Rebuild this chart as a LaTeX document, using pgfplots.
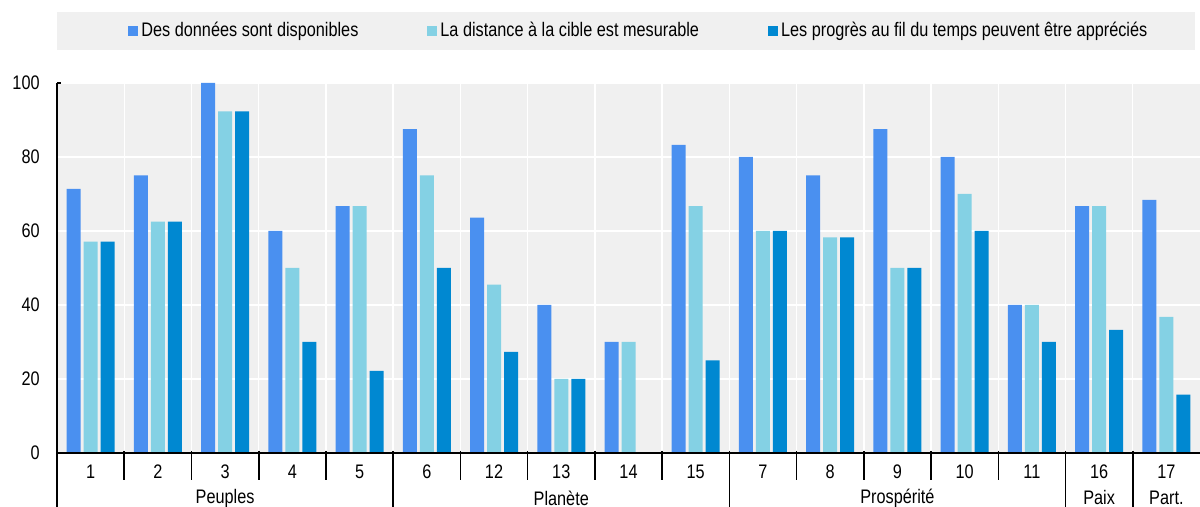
\documentclass[border=0pt]{standalone}
\usepackage{pgfplots}
\pgfplotsset{compat=1.18}
\usepackage{fontspec}
\setmainfont{Liberation Sans}[FakeStretch=0.83]
\definecolor{cA}{HTML}{4A90F0}
\definecolor{cB}{HTML}{84D1E4}
\definecolor{cC}{HTML}{0088D1}
\definecolor{bg}{HTML}{F0F0F0}
\newcommand{\fs}{\fontsize{9.8}{11.5}\selectfont}
\begin{document}
\fs
\begin{tikzpicture}
\path[use as bounding box] (-28.5pt,-27pt) rectangle (571.5pt,226.5pt);
\fill[bg] (0,201.5pt) rectangle (569pt,220.5pt);
\begin{axis}[at={(0,0)}, anchor=south west, scale only axis,
 width=571.5pt, height=185pt,
 xmin=-0.5, xmax=16.5, ymin=0, ymax=100,
 axis background/.style={fill=bg},
 axis line style={draw=none},
 ybar=1.5pt, bar width=7pt,
 xtick={0,...,16},
 xticklabels={1,2,3,4,5,6,12,13,14,15,7,8,9,10,11,16,17},
 minor xtick={0.5,1.5,...,15.5},
 xminorgrids, minor grid style={white, line width=0.7pt},
 ytick={0,20,...,100}, ymajorgrids, major grid style={white, line width=0.7pt},
 tick style={draw=none},
 /pgf/number format/assume math mode=true,
 xticklabel style={anchor=center, yshift=-5pt, font=\fs},
 yticklabel style={inner sep=0pt, xshift=-8.5pt, font=\fs},
 legend columns=3,
 legend style={at={(0.5095,1.1405)}, anchor=center, draw=none, fill=none,
   font=\fs,
   nodes={inner sep=1.5pt},
   /tikz/every even column/.append style={column sep=33pt}},
 legend image code/.code={\fill[#1,draw=none] (0pt,-2.5pt) rectangle (5pt,2.5pt);},
]
\addplot[fill=cA, draw=none] coordinates {
 (0,71.4) (1,75) (2,100) (3,60) (4,66.7) (5,87.5) (6,63.6) (7,40) (8,30) (9,83.3)
 (10,80) (11,75) (12,87.5) (13,80) (14,40) (15,66.7) (16,68.4)};
\addlegendentry{Des données sont disponibles}
\addplot[fill=cB, draw=none] coordinates {
 (0,57.1) (1,62.5) (2,92.3) (3,50) (4,66.7) (5,75) (6,45.5) (7,20) (8,30) (9,66.7)
 (10,60) (11,58.3) (12,50) (13,70) (14,40) (15,66.7) (16,36.8)};
\addlegendentry{La distance à la cible est mesurable}
\addplot[fill=cC, draw=none] coordinates {
 (0,57.1) (1,62.5) (2,92.3) (3,30) (4,22.2) (5,50) (6,27.3) (7,20) (8,0) (9,25)
 (10,60) (11,58.3) (12,50) (13,60) (14,30) (15,33.3) (16,15.8)};
\addlegendentry{Les progrès au fil du temps peuvent être appréciés}
\end{axis}
\draw[line width=0.8pt] (0,0) -- (571.5pt,0);
\draw[line width=0.8pt] (0,185pt) -- (0,-27pt);
\draw[line width=0.8pt] (0,185pt) -- (2pt,185pt);
\foreach \k in {1,...,16} \draw[line width=0.8pt] (\k*33.6176pt,1pt) -- (\k*33.6176pt,-13.5pt);
\foreach \k in {5,10,15,16} \draw[line width=0.8pt] (\k*33.6176pt,0) -- (\k*33.6176pt,-27pt);
\node at (84.04pt,-22.5pt) {Peuples};
\node at (252.13pt,-22.5pt) {Planète};
\node at (420.22pt,-22.5pt) {Prospérité};
\node at (521.07pt,-22.5pt) {Paix};
\node at (554.69pt,-22.5pt) {Part.};
\end{tikzpicture}
\end{document}
